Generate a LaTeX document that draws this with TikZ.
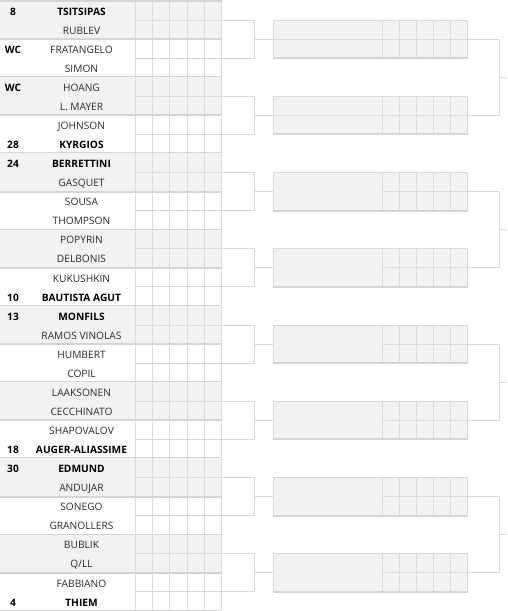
\documentclass[tikz,border=0pt]{standalone}
\usepackage{fontspec}
\setmainfont{Open Sans}
\definecolor{ln}{HTML}{D9D9D9}
\definecolor{lnb}{HTML}{D4D4D4}
\definecolor{sh}{HTML}{F2F2F2}
\definecolor{tx}{HTML}{2A2A2A}
\definecolor{tb}{HTML}{000000}
\begin{document}
\begin{tikzpicture}[x=1pt,y=-1pt,
  thinline/.style={draw=ln,line width=1pt},
  thickline/.style={draw=lnb,line width=2pt},
  conn/.style={draw=ln,line width=1pt},
  nm/.style={anchor=base,inner sep=0pt,text=tx,font=\fontsize{10.2}{12}\selectfont},
  bn/.style={anchor=base,inner sep=0pt,text=tb,font=\fontsize{10.2}{12}\selectfont\bfseries},
  sd/.style={anchor=base,inner sep=0pt,text=tb,font=\fontsize{10.2}{12}\selectfont\bfseries}]
\useasboundingbox (0,0) rectangle (507,611);
\fill[white] (0,0) rectangle (507,611);
% ---------- first round table ----------
\foreach \m in {0,...,15}{
  \pgfmathsetmacro\t{1+2*\m*19.06}
  \pgfmathsetmacro\b{\t+2*19.06}
  \pgfmathsetmacro\c{\t+19.06}
  \pgfmathtruncatemacro\ev{mod(\m,2)}
  \ifnum\ev=0 \fill[sh] (0,\t) rectangle (222,\b); \fi
  \foreach \i in {0,...,5}{ \draw[thinline] ({135.2+17.35*\i},\t) -- ({135.2+17.35*\i},\b); }
  \draw[thinline] (135.2,\c) -- (222,\c);
  \draw[thickline] (0,\b) -- (222,\b);
  \coordinate (m\m) at (222,\c);
}
\draw[thickline] (0,1) -- (222,1);
% ---------- second round boxes ----------
\foreach \j in {0,...,7}{
  \pgfmathsetmacro\t{1+(4*\j+1)*19.06}
  \pgfmathsetmacro\b{1+(4*\j+3)*19.06}
  \pgfmathsetmacro\c{1+(4*\j+2)*19.06}
  \fill[sh] (273,\t) rectangle (467.7,\b);
  \draw[thinline] (273,\b) -- (273,\t) -- (467.7,\t) -- (467.7,\b);
  \foreach \i in {0,...,4}{ \draw[thinline] ({382.3+17.08*\i},\t) -- ({382.3+17.08*\i},\b); }
  \ifnum\j<2 \draw[thinline] (273,\c) -- (467.7,\c);
  \else \draw[thinline] (382.3,\c) -- (467.7,\c); \fi
  \draw[thickline] (272.5,\b) -- (468.2,\b);
  \coordinate (s\j w) at (273,\c);
  \coordinate (s\j e) at (467.7,\c);
  \coordinate (j\j) at (254.3,\c);
}
% ---------- first bracket ----------
\foreach \j in {0,...,7}{
  \pgfmathtruncatemacro\a{2*\j}
  \pgfmathtruncatemacro\bb{2*\j+1}
  \draw[conn] (m\a) -| (j\j) |- (m\bb);
  \draw[conn] (j\j) -- (s\j w);
}
% ---------- second bracket ----------
\foreach \n in {0,...,3}{
  \pgfmathtruncatemacro\a{2*\n}
  \pgfmathtruncatemacro\bb{2*\n+1}
  \pgfmathsetmacro\c{1+(8*\n+4)*19.06}
  \coordinate (k\n) at (499.3,\c);
  \coordinate (o\n) at (507,\c);
  \draw[conn] (s\a e) -| (k\n) |- (s\bb e);
  \draw[conn] (k\n) -- (o\n);
}
% ---------- seeds ----------
\node[sd] (sd0)  at (13,{15.2+19.06*0}) {8};
\node[sd] (sd2)  at (13,{15.2+19.06*2}) {WC};
\node[sd] (sd4)  at (13,{15.2+19.06*4}) {WC};
\node[sd] (sd7)  at (13,{15.2+19.06*7}) {28};
\node[sd] (sd8)  at (13,{15.2+19.06*8}) {24};
\node[sd] (sd15) at (13,{15.2+19.06*15}) {10};
\node[sd] (sd16) at (13,{15.2+19.06*16}) {13};
\node[sd] (sd23) at (13,{15.2+19.06*23}) {18};
\node[sd] (sd24) at (13,{15.2+19.06*24}) {30};
\node[sd] (sd31) at (13,{15.2+19.06*31}) {4};
% ---------- names ----------
\node[bn] (p0)  at (81.5,{15.2+19.06*0}) {TSITSIPAS};
\node[nm] (p1)  at (81.5,{15.2+19.06*1}) {RUBLEV};
\node[nm] (p2)  at (81.5,{15.2+19.06*2}) {FRATANGELO};
\node[nm] (p3)  at (81.5,{15.2+19.06*3}) {SIMON};
\node[nm] (p4)  at (81.5,{15.2+19.06*4}) {HOANG};
\node[nm] (p5)  at (81.5,{15.2+19.06*5}) {L. MAYER};
\node[nm] (p6)  at (81.5,{15.2+19.06*6}) {JOHNSON};
\node[bn] (p7)  at (81.5,{15.2+19.06*7}) {KYRGIOS};
\node[bn] (p8)  at (81.5,{15.2+19.06*8}) {BERRETTINI};
\node[nm] (p9)  at (81.5,{15.2+19.06*9}) {GASQUET};
\node[nm] (p10) at (81.5,{15.2+19.06*10}) {SOUSA};
\node[nm] (p11) at (81.5,{15.2+19.06*11}) {THOMPSON};
\node[nm] (p12) at (81.5,{15.2+19.06*12}) {POPYRIN};
\node[nm] (p13) at (81.5,{15.2+19.06*13}) {DELBONIS};
\node[nm] (p14) at (81.5,{15.2+19.06*14}) {KUKUSHKIN};
\node[bn] (p15) at (81.5,{15.2+19.06*15}) {BAUTISTA AGUT};
\node[bn] (p16) at (81.5,{15.2+19.06*16}) {MONFILS};
\node[nm] (p17) at (81.5,{15.2+19.06*17}) {RAMOS VINOLAS};
\node[nm] (p18) at (81.5,{15.2+19.06*18}) {HUMBERT};
\node[nm] (p19) at (81.5,{15.2+19.06*19}) {COPIL};
\node[nm] (p20) at (81.5,{15.2+19.06*20}) {LAAKSONEN};
\node[nm] (p21) at (81.5,{15.2+19.06*21}) {CECCHINATO};
\node[nm] (p22) at (81.5,{15.2+19.06*22}) {SHAPOVALOV};
\node[bn] (p23) at (81.5,{15.2+19.06*23}) {AUGER-ALIASSIME};
\node[bn] (p24) at (81.5,{15.2+19.06*24}) {EDMUND};
\node[nm] (p25) at (81.5,{15.2+19.06*25}) {ANDUJAR};
\node[nm] (p26) at (81.5,{15.2+19.06*26}) {SONEGO};
\node[nm] (p27) at (81.5,{15.2+19.06*27}) {GRANOLLERS};
\node[nm] (p28) at (81.5,{15.2+19.06*28}) {BUBLIK};
\node[nm] (p29) at (81.5,{15.2+19.06*29}) {Q/LL};
\node[nm] (p30) at (81.5,{15.2+19.06*30}) {FABBIANO};
\node[bn] (p31) at (81.5,{15.2+19.06*31}) {THIEM};
\end{tikzpicture}
\end{document}
